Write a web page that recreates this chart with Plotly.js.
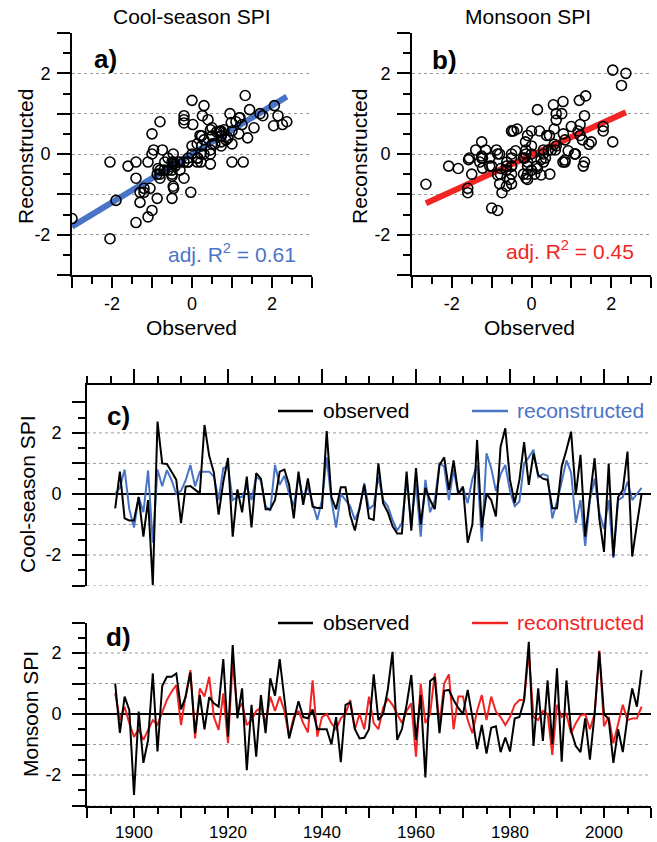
<!DOCTYPE html>
<html>
<head>
<meta charset="utf-8">
<script src="https://cdn.plot.ly/plotly-3.0.1.min.js"></script>
<style>html,body{margin:0;padding:0;background:#fff;}#chart{width:657px;height:842px;}</style>
</head>
<body>
<div id="chart"></div>
<script>
// ---------------- DATA ----------------
const years = [1896,1897,1898,1899,1900,1901,1902,1903,1904,1905,
1906,1907,1908,1909,1910,1911,1912,1913,1914,1915,
1916,1917,1918,1919,1920,1921,1922,1923,1924,1925,
1926,1927,1928,1929,1930,1931,1932,1933,1934,1935,
1936,1937,1938,1939,1940,1941,1942,1943,1944,1945,
1946,1947,1948,1949,1950,1951,1952,1953,1954,1955,
1956,1957,1958,1959,1960,1961,1962,1963,1964,1965,
1966,1967,1968,1969,1970,1971,1972,1973,1974,1975,
1976,1977,1978,1979,1980,1981,1982,1983,1984,1985,
1986,1987,1988,1989,1990,1991,1992,1993,1994,1995,
1996,1997,1998,1999,2000,2001,2002,2003,2004,2005,
2006,2007,2008];

// Cool-season SPI
const coolObserved = [-0.47,0.73,-0.8,-0.87,-0.87,-0.1,-1.4,-0.2,-3.0,2.37,
1.0,0.98,0.73,0.46,-0.96,0.24,0.26,0.13,0.02,2.26,
1.25,0.7,-0.68,0.4,1.18,-1.4,0.15,-0.6,0.57,-1.1,
0.68,0.5,-0.5,-0.5,-0.2,0.73,0.8,0.3,-0.8,0.73,
-0.36,0.51,-0.42,-0.46,-0.46,2.06,-0.1,-0.5,0.22,0.22,
-0.7,-1.2,-0.5,0.3,-0.8,-0.85,1.0,-0.3,-0.6,-1.05,
-1.3,-1.3,0.73,-1.2,0.85,-1.0,0.2,-0.2,-0.5,0.95,
1.2,0.13,1.1,0.0,0.24,-1.6,-1.0,1.77,-1.1,0.0,
-0.2,-0.74,1.55,2.15,0.46,-0.3,0.46,1.7,0.3,1.33,
0.62,0.5,0.46,-0.47,-0.47,0.9,1.44,2.04,-0.03,1.28,
-1.4,-0.2,1.17,-0.8,-1.9,1.0,-2.05,-0.1,0.13,1.39,
-2.05,-1.0,0.0];
const coolReconstructed = [0.0,0.2,0.8,-0.5,-1.1,-0.1,-0.6,0.77,-1.6,0.8,
0.25,0.78,0.45,0.0,0.1,0.45,0.95,0.25,0.73,0.73,
0.73,0.57,-0.2,0.85,0.9,-0.2,-0.1,-0.1,0.25,-0.2,
0.55,0.45,-0.4,-0.55,0.95,0.3,0.6,0.0,-0.4,0.57,
-0.2,0.25,-0.3,-0.85,-0.2,1.2,-0.2,-1.1,0.0,-0.2,
-0.4,-0.85,-0.5,0.35,-0.5,-0.36,0.57,-0.2,-0.4,-0.85,
-1.2,-0.95,0.45,-0.95,0.35,-1.4,0.46,-0.6,-0.2,1.0,
0.9,-0.2,0.8,0.0,0.2,-0.3,0.5,0.95,-1.56,1.33,
0.85,0.1,0.65,0.95,0.1,-0.4,-0.25,1.0,1.2,1.45,
0.55,0.65,0.6,-0.8,-0.25,0.4,1.1,0.7,-0.95,-0.2,
-1.7,-0.2,0.5,-0.6,-1.15,-0.2,-2.1,-0.2,-0.1,0.4,
-0.2,0.0,0.2];

// Monsoon SPI
const monsoonObserved = [1.0,-0.62,0.57,0.13,-2.65,0.08,-1.6,-0.85,1.33,-1.23,
0.92,1.22,1.22,1.33,0.15,0.57,1.36,-0.63,0.62,-0.5,
0.55,0.35,0.24,1.8,-0.74,2.26,-0.14,0.84,-1.84,0.3,
-1.4,0.62,-0.63,1.17,0.6,1.8,0.5,-0.8,-0.2,0.42,
-0.1,-0.14,0.15,-0.5,-0.5,-0.5,-1.0,-0.1,-1.58,0.3,
0.38,-0.5,-0.8,-0.78,-0.5,1.3,-0.2,0.0,0.8,2.04,
-0.85,-0.5,0.3,1.28,-0.85,0.62,-2.08,1.08,1.2,-0.63,
0.76,0.79,0.46,0.2,0.0,0.79,-0.1,-1.15,-0.36,-1.3,
-0.45,-0.4,-1.25,-0.77,-1.23,-0.15,-0.1,0.45,2.37,-1.05,
0.84,-0.88,1.1,-1.0,1.5,-1.56,1.1,-0.55,-1.05,-1.25,
-0.14,-1.5,0.0,2.04,0.0,-0.17,-1.6,-0.5,-1.25,-0.1,
0.84,0.24,1.44];
const monsoonReconstructed = [0.68,-0.2,0.24,-0.3,-0.75,-0.5,-0.85,-0.52,-0.2,-0.35,
0.08,0.46,0.73,0.95,-0.36,0.62,1.44,-0.8,0.84,0.57,
1.22,-0.1,-0.52,0.68,-0.96,1.7,0.1,0.35,-0.36,-0.2,
0.1,0.2,-0.3,0.57,0.1,0.57,0.1,-0.74,-0.1,0.1,
-0.3,-0.6,1.1,-0.74,-0.1,0.0,-0.3,-0.5,-0.14,0.0,
0.46,-0.5,0.0,-0.5,0.57,-0.3,-0.5,0.2,0.5,0.3,
0.0,-0.3,0.1,0.35,-1.4,1.0,-0.3,0.0,1.33,-0.4,
1.0,1.3,-0.5,0.57,0.57,-0.2,-0.63,0.1,0.62,-0.2,
0.57,0.08,-0.1,-0.36,-0.1,0.3,0.46,0.46,2.0,-0.1,
-0.2,0.1,0.0,-1.34,0.3,-0.1,0.0,-0.63,-0.3,-0.05,
0.0,-0.5,0.0,2.08,-0.4,-0.1,-0.96,-0.3,0.3,-0.2,
-0.15,-0.14,0.24];

// Regression fits [slope, intercept] and adjusted R²
const coolFit = [0.6, 0.0];
const monsoonFit = [0.45, -0.03];
const coolR2 = 0.61;
const monsoonR2 = 0.45;

// Tick labels
const spiTickVals = [-3,-2,-1,0,1,2,3];
const spiTickText = ['','-2','','0','','2',''];
const spiMinorVals = [-2.5,-1.5,-0.5,0.5,1.5,2.5];
const yearTickVals = [1890,1900,1910,1920,1930,1940,1950,1960,1970,1980,1990,2000,2010];
const yearTickText = ['','1900','','1920','','1940','','1960','','1980','','2000',''];
const gridVals = [-3,-2,-1,1,2];

// ---------------- STYLE ----------------
const W = 657, H = 842;
const px = v => v / W;
const py = v => 1 - v / H;
const FONT = 'Liberation Sans, Arial, sans-serif';
const BLUE = '#4a74c6';
const RED = '#f22424';
const GRID = '#9c9c9c';

function fitLine(obs, fit) {
  const x0 = Math.min(...obs), x1 = Math.max(...obs);
  return {x: [x0, x1], y: [fit[0]*x0 + fit[1], fit[0]*x1 + fit[1]]};
}
const fa = fitLine(coolObserved, coolFit);
const fb = fitLine(monsoonObserved, monsoonFit);

const traces = [
  {x: fa.x, y: fa.y, xaxis: 'x', yaxis: 'y', mode: 'lines', line: {color: BLUE, width: 6}, hoverinfo: 'skip'},
  {x: coolObserved, y: coolReconstructed, xaxis: 'x', yaxis: 'y', mode: 'markers',
   marker: {symbol: 'circle-open', size: 10, color: 'black', line: {width: 1.6, color: 'black'}}},
  {x: fb.x, y: fb.y, xaxis: 'x2', yaxis: 'y2', mode: 'lines', line: {color: RED, width: 6}, hoverinfo: 'skip'},
  {x: monsoonObserved, y: monsoonReconstructed, xaxis: 'x2', yaxis: 'y2', mode: 'markers',
   marker: {symbol: 'circle-open', size: 10, color: 'black', line: {width: 1.6, color: 'black'}}},
  {x: years, y: coolReconstructed, xaxis: 'x3', yaxis: 'y3', mode: 'lines', line: {color: BLUE, width: 2}},
  {x: years, y: coolObserved, xaxis: 'x3', yaxis: 'y3', mode: 'lines', line: {color: 'black', width: 2}},
  {x: years, y: monsoonReconstructed, xaxis: 'x4', yaxis: 'y4', mode: 'lines', line: {color: RED, width: 2}},
  {x: years, y: monsoonObserved, xaxis: 'x4', yaxis: 'y4', mode: 'lines', line: {color: 'black', width: 2}}
];

const axisBase = {
  showline: true, linecolor: 'black', linewidth: 2, mirror: false,
  ticks: 'outside', tickcolor: 'black', tickwidth: 2,
  tickfont: {family: FONT, size: 18, color: 'black'},
  zeroline: false, showgrid: false, fixedrange: true
};
function scatX(dom, anchor) {
  return Object.assign({}, axisBase, {
    domain: dom, anchor: anchor, range: [-3, 3], ticklen: 11,
    tickmode: 'array', tickvals: spiTickVals, ticktext: spiTickText,
    minor: {tickmode: 'array', tickvals: spiMinorVals, ticks: 'outside', ticklen: 7, tickwidth: 2, tickcolor: 'black', showgrid: false}
  });
}
function scatY(dom, anchor) {
  return Object.assign({}, axisBase, {
    domain: dom, anchor: anchor, range: [-3, 3], ticklen: 13, ticklabelstandoff: 3,
    tickmode: 'array', tickvals: spiTickVals, ticktext: spiTickText,
    showgrid: true, gridcolor: GRID, gridwidth: 1, griddash: 'dot',
    minor: {tickmode: 'array', tickvals: spiMinorVals, ticks: 'outside', ticklen: 7, tickwidth: 2, tickcolor: 'black', showgrid: false}
  });
}
function tsY(dom, anchor, range) {
  return Object.assign({}, axisBase, {
    domain: dom, anchor: anchor, range: range, ticklen: 13, ticklabelstandoff: 7,
    tickmode: 'array', tickvals: spiTickVals, ticktext: spiTickText,
    zeroline: true, zerolinecolor: 'black', zerolinewidth: 2,
    minor: {tickmode: 'array', tickvals: spiMinorVals, ticks: 'outside', ticklen: 7, tickwidth: 2, tickcolor: 'black', showgrid: false}
  });
}
function tsX(dom, anchor, side, labels, len, mlen, fsize) {
  return Object.assign({}, axisBase, {
    domain: dom, anchor: anchor, side: side, range: [1890, 2010], ticklen: len,
    tickmode: 'array', tickvals: yearTickVals, ticktext: yearTickText, showticklabels: labels,
    tickfont: {family: FONT, size: fsize, color: 'black'},
    minor: {tickmode: 'linear', tick0: 1890, dtick: 5, ticks: 'outside', ticklen: mlen, tickwidth: 2, tickcolor: 'black', showgrid: false}
  });
}

const shapes = [];
gridVals.forEach(v => {
  shapes.push({type: 'line', xref: 'x3 domain', x0: 0, x1: 1, yref: 'y3', y0: v, y1: v, layer: 'below',
    line: {color: GRID, width: 1, dash: 'dot'}});
  shapes.push({type: 'line', xref: 'x4 domain', x0: 0, x1: 1, yref: 'y4', y0: v, y1: v, layer: 'below',
    line: {color: GRID, width: 1, dash: 'dot'}});
});
function legLine(x0, x1, y, color) {
  shapes.push({type: 'line', xref: 'paper', yref: 'paper', x0: px(x0), x1: px(x1), y0: py(y), y1: py(y),
    line: {color: color, width: 2.5}});
}
legLine(278, 313, 411, 'black');
legLine(472, 508, 411, BLUE);
legLine(278, 313, 623, 'black');
legLine(472, 508, 623, RED);

function ann(text, x, y, opts) {
  return Object.assign({text: text, x: px(x), y: py(y), xref: 'paper', yref: 'paper', showarrow: false,
    xanchor: 'center', yanchor: 'middle', font: {family: FONT, size: 21, color: 'black'}}, opts || {});
}
const annotations = [
  ann('Cool-season SPI', 192, 17),
  ann('Monsoon SPI', 528, 17),
  ann('Reconstructed', 25, 157, {textangle: -90}),
  ann('Reconstructed', 359, 157, {textangle: -90}),
  ann('Observed', 191, 327),
  ann('Observed', 529, 327),
  ann('adj. R<sup>2</sup> = ' + coolR2.toFixed(2), 232, 253, {font: {family: FONT, size: 21, color: BLUE}}),
  ann('adj. R<sup>2</sup> = ' + monsoonR2.toFixed(2), 570, 250, {font: {family: FONT, size: 21, color: RED}}),
  ann('<b>a)</b>', 105, 59, {font: {family: FONT, size: 26, color: 'black'}}),
  ann('<b>b)</b>', 444, 60, {font: {family: FONT, size: 26, color: 'black'}}),
  ann('<b>c)</b>', 118, 416, {font: {family: FONT, size: 26, color: 'black'}}),
  ann('<b>d)</b>', 118, 637, {font: {family: FONT, size: 26, color: 'black'}}),
  ann('Cool-season SPI', 28, 494, {textangle: -90}),
  ann('Monsoon SPI', 30, 714, {textangle: -90}),
  ann('observed', 321, 410, {xanchor: 'left'}),
  ann('reconstructed', 515, 410, {xanchor: 'left', font: {family: FONT, size: 21, color: BLUE}}),
  ann('observed', 321, 622, {xanchor: 'left'}),
  ann('reconstructed', 515, 622, {xanchor: 'left', font: {family: FONT, size: 21, color: RED}})
];

const layout = {
  width: W, height: H,
  margin: {l: 0, r: 0, t: 0, b: 0},
  paper_bgcolor: 'white', plot_bgcolor: 'rgba(0,0,0,0)',
  showlegend: false,
  font: {family: FONT, color: 'black'},
  xaxis: scatX([px(72), px(312)], 'y'),
  yaxis: scatY([py(275), py(33)], 'x'),
  xaxis2: scatX([px(412), px(651)], 'y2'),
  yaxis2: scatY([py(275), py(33)], 'x2'),
  xaxis3: tsX([px(87), px(651)], 'y3', 'top', false, 14, 7, 18),
  yaxis3: tsY([py(585.5), py(385)], 'x3', [-3, 3.57]),
  xaxis4: tsX([px(87), px(651)], 'y4', 'bottom', true, 10, 6, 17),
  yaxis4: tsY([py(805.5), py(622.5)], 'x4', [-3, 3]),
  shapes: shapes,
  annotations: annotations
};

Plotly.newPlot('chart', traces, layout, {displayModeBar: false, staticPlot: true});
</script>
</body>
</html>
